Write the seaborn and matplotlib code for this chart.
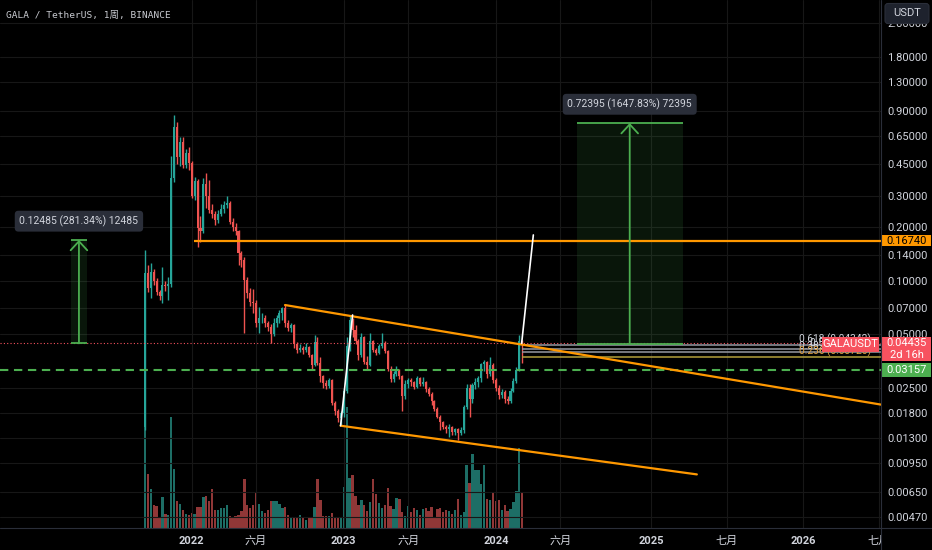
import matplotlib
matplotlib.use('Agg')
import matplotlib.pyplot as plt
import matplotlib.transforms as mtransforms
from matplotlib.lines import Line2D
from matplotlib.patches import FancyBboxPatch, Rectangle
from matplotlib.ticker import FixedLocator, FixedFormatter, NullLocator
import numpy as np
import pandas as pd
import seaborn as sns

# weekly GALA/USDT candles, week 0 = 2021-09-13, open = previous close
first_open = 0.015
close = [0.110, 0.091, 0.112, 0.100, 0.086, 0.082, 0.095, 0.093, 0.096, 0.376,
         0.730, 0.497, 0.603, 0.446, 0.519, 0.456, 0.300, 0.365, 0.197, 0.190,
         0.350, 0.300, 0.249, 0.236, 0.219, 0.238, 0.252, 0.265, 0.272, 0.214,
         0.201, 0.190, 0.142, 0.131, 0.101, 0.085, 0.076, 0.0746, 0.0575, 0.0614,
         0.0620, 0.0575, 0.0551, 0.0500, 0.0580, 0.0615, 0.0655, 0.0700, 0.0575, 0.0540,
         0.0560, 0.0440, 0.0405, 0.0420, 0.0405, 0.0425, 0.0380, 0.0335, 0.0450, 0.0345,
         0.0290, 0.0265, 0.0255, 0.0275, 0.0205, 0.0185, 0.0168, 0.0180, 0.0240, 0.0430,
         0.0600, 0.0530, 0.0455, 0.0380, 0.0480, 0.0350, 0.0335, 0.0455, 0.0405, 0.0392,
         0.0430, 0.0445, 0.0400, 0.0320, 0.0280, 0.0300, 0.0312, 0.0290, 0.0225, 0.0262,
         0.0275, 0.0268, 0.0252, 0.0282, 0.0262, 0.0270, 0.0245, 0.0232, 0.0210, 0.0190,
         0.0172, 0.0160, 0.0151, 0.0146, 0.0150, 0.0141, 0.0146, 0.0140, 0.0145, 0.0196,
         0.0250, 0.0215, 0.0258, 0.0270, 0.0282, 0.0340, 0.0348, 0.0300, 0.0335, 0.0275,
         0.0250, 0.0228, 0.0238, 0.0215, 0.0210, 0.0240, 0.0272, 0.03157, 0.0455, 0.04435]
high = [0.148, 0.122, 0.125, 0.116, 0.104, 0.089, 0.120, 0.099, 0.105, 0.500,
        0.855, 0.780, 0.643, 0.640, 0.550, 0.560, 0.470, 0.380, 0.370, 0.230,
        0.376, 0.400, 0.367, 0.270, 0.245, 0.250, 0.268, 0.280, 0.300, 0.280,
        0.225, 0.210, 0.192, 0.146, 0.136, 0.105, 0.091, 0.090, 0.078, 0.0714,
        0.066, 0.064, 0.059, 0.057, 0.062, 0.064, 0.068, 0.0715, 0.0729, 0.060,
        0.058, 0.057, 0.045, 0.044, 0.043, 0.0445, 0.043, 0.0385, 0.0495, 0.0485,
        0.037, 0.0295, 0.0275, 0.0285, 0.028, 0.021, 0.019, 0.0185, 0.025, 0.0485,
        0.0640, 0.0620, 0.056, 0.047, 0.0505, 0.049, 0.0375, 0.051, 0.0465, 0.042,
        0.044, 0.0506, 0.046, 0.041, 0.033, 0.031, 0.033, 0.032, 0.0295, 0.0275,
        0.0285, 0.0282, 0.0272, 0.0292, 0.0289, 0.0289, 0.0274, 0.0252, 0.0236, 0.0214,
        0.0196, 0.0175, 0.0163, 0.0155, 0.0156, 0.0153, 0.0149, 0.0148, 0.0150, 0.0200,
        0.0262, 0.0262, 0.0265, 0.0285, 0.0292, 0.0345, 0.0358, 0.0352, 0.0374, 0.0345,
        0.0282, 0.0258, 0.0245, 0.0242, 0.0225, 0.0250, 0.0285, 0.0325, 0.0495, 0.0462]
low = [0.0145, 0.086, 0.080, 0.095, 0.083, 0.078, 0.0746, 0.087, 0.078, 0.092,
       0.360, 0.450, 0.440, 0.430, 0.430, 0.418, 0.290, 0.285, 0.155, 0.165,
       0.185, 0.255, 0.240, 0.225, 0.205, 0.210, 0.230, 0.240, 0.255, 0.208,
       0.190, 0.180, 0.122, 0.120, 0.0506, 0.080, 0.072, 0.0655, 0.055, 0.0506,
       0.058, 0.055, 0.052, 0.0445, 0.049, 0.055, 0.058, 0.060, 0.055, 0.052,
       0.0515, 0.042, 0.039, 0.0395, 0.0385, 0.0395, 0.037, 0.032, 0.033, 0.0335,
       0.027, 0.025, 0.0245, 0.025, 0.020, 0.0175, 0.016, 0.01545, 0.0172, 0.0235,
       0.040, 0.048, 0.044, 0.036, 0.037, 0.034, 0.032, 0.033, 0.0395, 0.038,
       0.0385, 0.042, 0.039, 0.031, 0.027, 0.0268, 0.029, 0.028, 0.0185, 0.0215,
       0.025, 0.0255, 0.0245, 0.0248, 0.0255, 0.0255, 0.0238, 0.0225, 0.0200, 0.0185,
       0.0168, 0.0145, 0.0146, 0.0140, 0.0133, 0.0136, 0.0136, 0.0127, 0.0135, 0.0139,
       0.0190, 0.0172, 0.0205, 0.0245, 0.0252, 0.0270, 0.0310, 0.0285, 0.0290, 0.0265,
       0.0240, 0.0215, 0.0218, 0.0205, 0.0203, 0.0206, 0.0236, 0.0265, 0.0310, 0.0344]
# weekly volume, in 1e7 GALA
volume = [140, 54, 39, 23, 22, 10, 31, 14, 13, 111,
          59, 27, 24, 18, 14, 13, 15, 14, 21, 21,
          31, 32, 27, 39, 18, 18, 20, 20, 23, 12,
          11, 12, 13, 17, 49, 23, 20, 23, 35, 24,
          17, 15, 18, 27, 27, 27, 24, 20, 21, 13,
          10, 11, 10, 13, 10, 8, 11, 11, 21, 49,
          28, 12, 12, 12, 15, 11, 11, 10, 41, 121,
          50, 53, 32, 23, 28, 23, 17, 26, 49, 34,
          25, 20, 23, 40, 22, 19, 30, 29, 16, 12,
          22, 16, 20, 18, 13, 19, 20, 17, 21, 11,
          19, 20, 16, 18, 17, 14, 18, 29, 13, 16,
          63, 45, 74, 58, 58, 44, 63, 29, 28, 36,
          27, 28, 18, 23, 17, 19, 26, 37, 80, 36]

tick_weeks = [16, 38, 68, 90, 120, 142, 173, 199, 225, 251]
tick_names = ['2022', '六月', '2023', '六月', '2024', '六月', '2025', '七月', '2026', '七月']
price_ticks = [0.0047, 0.0065, 0.0095, 0.013, 0.018, 0.025, 0.05, 0.07, 0.1,
               0.14, 0.2, 0.3, 0.45, 0.65, 0.9, 1.3, 1.8, 2.8]

last_price = 0.04435
week_open = 0.03157
resistance = 0.1674
resistance_from = 16.8

# drawings: (week, price) anchors
upper_trend = [(47.9, 0.0729), (251.7, 0.0201)]
lower_trend = [(66.9, 0.0153), (188.7, 0.00815)]
white_lines = [[(66.9, 0.0153), (71.0, 0.0641)], [(128.8, 0.0444), (132.8, 0.1805)]]
fib_levels = [0.618, 0.5, 0.382, 0.236]
fib_prices = [0.04342, 0.04140, 0.03950, 0.03720]
fib_start = 128.8
# price range tools: (left week, right week, base price, change, label)
ranges = [(-25.3, -19.8, 0.04438, 0.12485, '0.12485 (281.34%) 12485'),
          (147.6, 183.9, 0.04393, 0.72395, '0.72395 (1647.83%) 72395')]

UP, DOWN = '#26a69a', '#ef5350'
GREEN, ORANGE, RED = '#4caf50', '#ff9800', '#f7525f'
TXT = '#d1d4dc'
xmin, xmax = -49.54, 251.66
ymin, ymax = 0.004074, 3.771

sns.set_theme(style='dark', rc={
    'figure.facecolor': 'black', 'axes.facecolor': 'black',
    'savefig.facecolor': 'black', 'text.color': TXT,
    'xtick.color': TXT, 'ytick.color': TXT})
plt.rcParams['font.family'] = ['Roboto', 'Noto Sans CJK SC', 'DejaVu Sans']

df = pd.DataFrame({'week': np.arange(len(close)), 'close': close,
                   'high': high, 'low': low, 'volume': volume})
df['open'] = [first_open] + close[:-1]
df['side'] = np.where(df['close'] >= df['open'], 'up', 'down')

fig = plt.figure(figsize=(9.32, 5.5), dpi=100)
ax = fig.add_axes([0, 22 / 550, 881 / 932, 528 / 550])
axv = ax.twinx()
ax.set_zorder(1)
axv.set_zorder(0)
ax.patch.set_visible(False)

# volume
sns.barplot(data=df, x='week', y='volume', hue='side',
            palette={'up': '#1d6e66', 'down': '#903737'},
            native_scale=True, width=0.8, dodge=False, saturation=1,
            errorbar=None, legend=False, linewidth=0, ax=axv)
axv.set_ylim(0, 528)
axv.set_yticks([])
axv.set_ylabel('')
axv.set_xlabel('')

# candles
cols = np.where(df['side'] == 'up', UP, DOWN)
ax.vlines(df['week'], df['low'], df['high'], colors=cols, lw=1, zorder=3)
body_lo = np.minimum(df['open'], df['close'])
body_hi = np.maximum(df['open'], df['close'])
ax.bar(df['week'], body_hi - body_lo, bottom=body_lo, width=0.7,
       color=cols, linewidth=0, zorder=4)

ax.set_yscale('log')
ax.set_ylim(ymin, ymax)
ax.set_xlim(xmin, xmax)

ax.yaxis.tick_right()
ax.yaxis.set_major_locator(FixedLocator(price_ticks))
ax.yaxis.set_major_formatter(FixedFormatter(['%.5f' % p for p in price_ticks]))
ax.yaxis.set_minor_locator(NullLocator())
ax.set_xticks(tick_weeks, tick_names)
for lbl in ax.get_xticklabels():
    if lbl.get_text().isdigit():
        lbl.set_fontweight('bold')
ax.tick_params(axis='y', length=0, pad=4.3, labelsize=8, colors=TXT)
ax.tick_params(axis='x', length=0, pad=5.5, labelsize=8, colors=TXT)
ax.grid(True, color='#171717', linewidth=0.8)
ax.set_axisbelow(True)
for a in (ax, axv):
    for s in a.spines.values():
        s.set_visible(False)

# horizontal levels
ax.axhline(week_open, color=GREEN, lw=1.5, ls=(0, (4, 2.7)), zorder=5)
ax.axhline(last_price, color=RED, lw=0.8, ls=(0, (1, 2)), zorder=5)
ax.hlines(resistance, resistance_from, xmax, color=ORANGE, lw=1.6, zorder=6)
for lvl, p in zip(fib_levels, fib_prices):
    c = '#b4a03c' if lvl == 0.236 else '#9598a1'
    ax.hlines(p, fib_start, xmax, color=c, lw=1.1, zorder=5)
    ax.text(248.2, p, '%g (%.5f)' % (lvl, p), ha='right', va='bottom',
            fontsize=7.3, color='#e0a040' if lvl == 0.236 else TXT, zorder=6)

# trend lines
for pts, c, w in [(upper_trend, ORANGE, 1.6), (lower_trend, ORANGE, 1.6)] + \
        [(wl, 'white', 1.2) for wl in white_lines]:
    ax.plot([pts[0][0], pts[1][0]], [pts[0][1], pts[1][1]], color=c, lw=w,
            solid_capstyle='round', zorder=7)

# price range tools
for x0, x1, base, delta, label in ranges:
    top = base + delta
    xc = (x0 + x1) / 2
    ax.add_patch(Rectangle((x0, base), x1 - x0, top - base, fc=GREEN,
                           alpha=0.13, ec='none', zorder=2))
    ax.hlines([base, top], x0, x1, color=GREEN, lw=1.3, zorder=8)
    ax.annotate('', xy=(xc, top), xytext=(xc, base),
                arrowprops=dict(arrowstyle='->,head_length=0.65,head_width=0.6',
                                color=GREEN, lw=1.3, shrinkA=0, shrinkB=0,
                                mutation_scale=10), zorder=8)
    ax.annotate(label, xy=(xc, top), xytext=(0, 13.5), textcoords='offset points',
                ha='center', va='center', fontsize=7.5, color=TXT, zorder=9,
                bbox=dict(boxstyle='round,pad=0.45,rounding_size=0.35',
                          fc='#2a2e39', ec='none'))

# labels on the price scale
blend = mtransforms.blended_transform_factory(ax.transAxes, ax.transData)
px_dec = 528 / (np.log10(ymax) - np.log10(ymin))


def shift(price, dpx):
    return price * 10 ** (-dpx / px_dec)


def scale_box(price, x0, x1, up, down, fc):
    ax.add_patch(Rectangle((x0 / 881, shift(price, down)), (x1 - x0) / 881,
                           shift(price, -up) - shift(price, down), transform=blend,
                           fc=fc, ec='none', clip_on=False, zorder=20))


scale_box(resistance, 881.5, 931, 6, 5.5, ORANGE)
ax.text(906.5 / 881, resistance, '%.5f' % resistance, transform=blend, ha='center',
        va='center', fontsize=8, color='black', clip_on=False, zorder=21)
scale_box(last_price, 881.5, 931, 6.7, 18, RED)
ax.text(906.5 / 881, last_price, '%.5f' % last_price, transform=blend, ha='center',
        va='center', fontsize=8, color='white', clip_on=False, zorder=21)
ax.text(906.5 / 881, shift(last_price, 11.5), '2d 16h', transform=blend, ha='center',
        va='center', fontsize=8, color='white', clip_on=False, zorder=21)
scale_box(last_price, 822, 879, 6.7, 8.3, RED)
ax.text(850.5 / 881, shift(last_price, 0.7), 'GALAUSDT', transform=blend, ha='center',
        va='center', fontsize=8, color='white', clip_on=False, zorder=21)
scale_box(week_open, 881.5, 931, 7, 7, GREEN)
ax.text(906.5 / 881, week_open, '%.5f' % week_open, transform=blend, ha='center',
        va='center', fontsize=8, color='white', clip_on=False, zorder=21)

# frame pieces of the chart window (pixel coordinates)
ident = mtransforms.IdentityTransform()
fig.add_artist(Rectangle((882, 0), 50, 21.5, transform=ident, fc='black',
                         ec='none', zorder=10))
fig.add_artist(Line2D([881, 881], [0, 550], transform=ident, color='#2a2e39',
                      lw=0.8, zorder=11))
fig.add_artist(Line2D([0, 932], [22, 22], transform=ident, color='#2a2e39',
                      lw=0.8, zorder=11))
fig.add_artist(FancyBboxPatch((885, 526.5), 44, 20, transform=ident,
                              boxstyle='round,pad=0,rounding_size=3',
                              fc='#1e222d', ec='#2a2e39', lw=0.8, zorder=12))
fig.text(907 / 932, 536.5 / 550, 'USDT', ha='center', va='center', fontsize=8,
         color=TXT, zorder=13)
fig.text(6 / 932, 1 - 15 / 550, 'GALA / TetherUS, 1周, BINANCE',
         family=['DejaVu Sans Mono', 'Noto Sans CJK SC'], fontsize=6.8,
         color='#c8cad0', va='center', ha='left')

fig.savefig('out.png', dpi=100, facecolor='black')
